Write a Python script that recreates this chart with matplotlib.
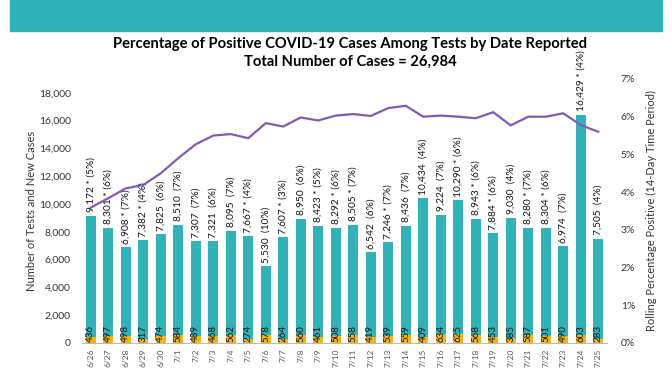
import matplotlib.pyplot as plt
from matplotlib.patches import Rectangle
from matplotlib.ticker import FuncFormatter

dates = ['6/26', '6/27', '6/28', '6/29', '6/30', '7/1', '7/2', '7/3', '7/4', '7/5',
         '7/6', '7/7', '7/8', '7/9', '7/10', '7/11', '7/12', '7/13', '7/14', '7/15',
         '7/16', '7/17', '7/18', '7/19', '7/20', '7/21', '7/22', '7/23', '7/24', '7/25']
tests = [9172, 8301, 6908, 7382, 7825, 8510, 7307, 7321, 8095, 7667,
         5530, 7607, 8950, 8423, 8292, 8505, 6542, 7246, 8436, 10434,
         9224, 10290, 8943, 7884, 9030, 8280, 8304, 6974, 16429, 7505]
daily_pct = [5, 6, 7, 4, 6, 7, 7, 6, 7, 4,
             10, 3, 6, 5, 6, 7, 6, 7, 7, 4,
             7, 6, 6, 6, 4, 7, 6, 7, 4, 4]
starred = [1, 1, 1, 1, 0, 0, 0, 0, 0, 1,
           0, 1, 0, 1, 1, 1, 0, 1, 0, 0,
           0, 1, 1, 1, 0, 1, 1, 0, 1, 0]
cases = [436, 497, 498, 317, 474, 584, 489, 468, 562, 274,
         578, 264, 560, 461, 508, 558, 419, 539, 559, 409,
         634, 625, 568, 453, 385, 587, 501, 490, 603, 283]
rolling = [3.59, 3.84, 4.10, 4.19, 4.50, 4.90, 5.27, 5.50, 5.54, 5.43,
           5.83, 5.74, 5.98, 5.90, 6.03, 6.07, 6.02, 6.23, 6.29, 6.00,
           6.03, 6.00, 5.96, 6.12, 5.77, 6.00, 6.00, 6.09, 5.78, 5.60]

plt.rcParams['font.family'] = ['Lato', 'DejaVu Sans']

teal = '#2fb3b9'
orange = '#f5b50a'
purple = '#7e5db0'

fig = plt.figure(figsize=(6.72, 3.72), dpi=100)

# header band
fig.patches.append(Rectangle((10 / 672, 1 - 31 / 372), 652 / 672, 31 / 372,
                             transform=fig.transFigure, color=teal, zorder=0))

ax = fig.add_axes([82 / 672, 29 / 372, 525 / 672, 264 / 372])
x = list(range(len(dates)))
ax.bar(x, tests, width=0.58, color=teal, zorder=2)
ax.bar(x, cases, width=0.58, color=orange, zorder=3)

for i in x:
    star = ' * ' if starred[i] else '  '
    ax.text(i, tests[i] + 250, f'{tests[i]:,}{star}({daily_pct[i]}%)',
            rotation=90, ha='center', va='bottom', fontsize=7.3, color='#111111', zorder=5)
    ax.text(i, 40, str(cases[i]), rotation=90, ha='center', va='bottom',
            fontsize=7, color='#111111', zorder=5)

ax.set_xlim(-0.5, len(dates) - 0.5)
ax.set_ylim(0, 19000)
ax.set_yticks(range(0, 18001, 2000))
ax.yaxis.set_major_formatter(FuncFormatter(lambda v, p: f'{int(v):,}'))
ax.set_xticks(x)
ax.set_xticklabels(dates, rotation=90, fontsize=6, color='#555555')
ax.tick_params(axis='x', length=0, pad=4)
ax.tick_params(axis='y', length=0, labelsize=7.5, colors='#333333', pad=8)
for s in ['top', 'right', 'left']:
    ax.spines[s].set_visible(False)
ax.spines['bottom'].set_color('#bbbbbb')
ax.set_ylabel('Number of Tests and New Cases', fontsize=8, color='#333333', labelpad=1)

ax2 = ax.twinx()
ax2.plot(x, [r / 100 for r in rolling], color=purple, linewidth=1.6, zorder=4)
ax2.set_ylim(0, 0.07)
ax2.set_yticks([i / 100 for i in range(8)])
ax2.yaxis.set_major_formatter(FuncFormatter(lambda v, p: f'{v * 100:.0f}%'))
ax2.tick_params(axis='y', length=0, labelsize=7.5, colors='#333333', pad=10)
for s in ['top', 'right', 'left', 'bottom']:
    ax2.spines[s].set_visible(False)
ax2.set_ylabel('Rolling Percentage Positive (14-Day Time Period)', fontsize=8,
               color='#333333', labelpad=8)

fig.text(350 / 672, 1 - 44 / 372, 'Percentage of Positive COVID-19 Cases Among Tests by Date Reported',
         ha='center', va='center', fontsize=10.6, fontweight='bold')
fig.text(350 / 672, 1 - 62 / 372, 'Total Number of Cases = 26,984',
         ha='center', va='center', fontsize=10.6, fontweight='bold')

fig.savefig('out.png', dpi=100)
